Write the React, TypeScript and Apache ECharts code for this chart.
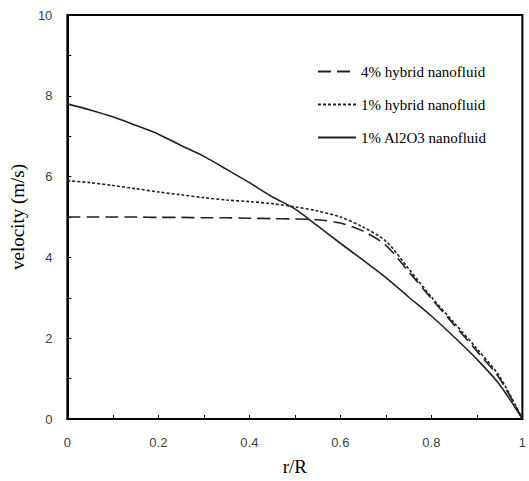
import React, { useEffect, useRef } from "react";
import * as echarts from "echarts";

const rR = [0, 0.05, 0.1, 0.15, 0.2, 0.25, 0.3, 0.35, 0.4, 0.45, 0.5, 0.55, 0.6, 0.65, 0.7, 0.75, 0.8, 0.85, 0.9, 0.95, 1.0];
const hybrid4 = [5.0, 5.0, 5.0, 5.0, 4.99, 4.99, 4.98, 4.98, 4.97, 4.96, 4.95, 4.93, 4.85, 4.65, 4.3, 3.65, 2.98, 2.33, 1.68, 1.0, 0];
const hybrid1 = [5.9, 5.85, 5.78, 5.7, 5.62, 5.55, 5.48, 5.42, 5.38, 5.33, 5.25, 5.15, 5.0, 4.75, 4.4, 3.72, 3.02, 2.38, 1.74, 1.05, 0];
const al2o3 = [7.8, 7.65, 7.48, 7.27, 7.05, 6.77, 6.5, 6.18, 5.85, 5.5, 5.2, 4.78, 4.35, 3.93, 3.5, 3.02, 2.55, 2.03, 1.48, 0.85, 0];
const seriesNames = ["4% hybrid nanofluid", "1% hybrid nanofluid", "1% Al2O3 nanofluid"];

const pair = (ys: number[]) => rR.map((x, i) => [x, ys[i]]);

export default function App() {
  const ref = useRef<HTMLDivElement>(null);
  useEffect(() => {
    if (!ref.current) return;
    const chart = echarts.init(ref.current, null, { renderer: "svg" });
    const tickFont = { fontFamily: "Liberation Sans", fontSize: 13, color: "#404040" };
    chart.setOption({
      animation: false,
      backgroundColor: "#fff",
      grid: { left: 60, right: 4, top: 15, bottom: 62, show: true, borderColor: "#000", borderWidth: 2 },
      legend: {
        orient: "vertical",
        left: 312,
        top: 59,
        itemWidth: 38,
        itemHeight: 10,
        itemGap: 18,
        data: seriesNames,
        itemStyle: { opacity: 0 },
        textStyle: { fontFamily: "Liberation Serif", fontSize: 15, color: "#000" },
      },
      xAxis: {
        type: "value",
        min: 0,
        max: 1,
        interval: 0.2,
        name: "r/R",
        nameLocation: "middle",
        nameGap: 38,
        nameTextStyle: { fontFamily: "Liberation Serif", fontSize: 19, color: "#000" },
        axisLine: { show: true, lineStyle: { color: "#000", width: 2 } },
        axisTick: { show: true, inside: true, length: 4, lineStyle: { color: "#000" } },
        minorTick: { show: true, splitNumber: 2, length: 4, lineStyle: { color: "#000" } },
        axisLabel: { ...tickFont, margin: 17, formatter: (v: number) => String(Math.round(v * 10) / 10) },
        splitLine: { show: false },
      },
      yAxis: {
        type: "value",
        min: 0,
        max: 10,
        interval: 2,
        name: "velocity (m/s)",
        nameLocation: "middle",
        nameGap: 36,
        nameTextStyle: { fontFamily: "Liberation Serif", fontSize: 19, color: "#000" },
        axisLine: { show: true, lineStyle: { color: "#000", width: 2 } },
        axisTick: { show: true, inside: true, length: 4, lineStyle: { color: "#000" } },
        minorTick: { show: true, splitNumber: 2, length: 4, lineStyle: { color: "#000" } },
        axisLabel: { ...tickFont, margin: 15 },
        splitLine: { show: false },
      },
      series: [
        {
          name: seriesNames[0],
          type: "line",
          data: pair(hybrid4),
          smooth: 0.3,
          symbol: "none",
          lineStyle: { color: "#222", width: 1.6, type: [13, 6] },
          itemStyle: { color: "#222" },
        },
        {
          name: seriesNames[1],
          type: "line",
          data: pair(hybrid1),
          smooth: 0.3,
          symbol: "none",
          lineStyle: { color: "#222", width: 1.6, type: [3, 2] },
          itemStyle: { color: "#222" },
        },
        {
          name: seriesNames[2],
          type: "line",
          data: pair(al2o3),
          smooth: 0.3,
          symbol: "none",
          lineStyle: { color: "#222", width: 1.6, type: "solid" },
          itemStyle: { color: "#222" },
        },
      ],
    });
    return () => chart.dispose();
  }, []);
  return <div ref={ref} style={{ position: "fixed", left: 0, top: 0, width: 529, height: 481 }} />;
}
